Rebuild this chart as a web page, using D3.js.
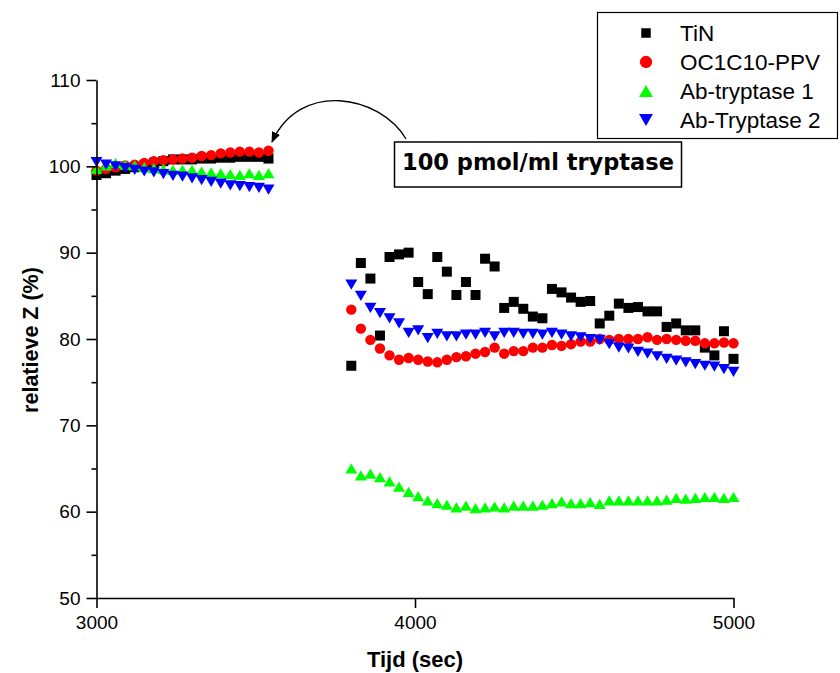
<!DOCTYPE html>
<html>
<head>
<meta charset="utf-8">
<script src="https://cdn.jsdelivr.net/npm/d3@7"></script>
<style>
  html, body { margin: 0; padding: 0; background: #fff; }
  svg { display: block; }
</style>
</head>
<body>
<svg id="chart" width="840" height="673"></svg>
<script>
// Measurement times (s): before and after adding tryptase
const time1 = [3000, 3030, 3060, 3090, 3120, 3150, 3180, 3210, 3240, 3270,
               3300, 3330, 3360, 3390, 3420, 3450, 3480, 3510, 3540];
const time2 = [3800, 3830, 3860, 3890, 3920, 3950, 3980, 4010, 4040, 4070,
               4100, 4130, 4160, 4190, 4220, 4250, 4280, 4310, 4340, 4370,
               4400, 4430, 4460, 4490, 4520, 4550, 4580, 4610, 4640, 4670,
               4700, 4730, 4760, 4790, 4820, 4850, 4880, 4910, 4940, 4970, 5000];

// Relative impedance (%) per electrode
const tin1 = [99.0, 99.2, 99.5, 99.7, 99.9, 100.1, 100.4, 100.6, 100.8, 100.8,
              100.8, 100.9, 100.9, 101.0, 101.0, 101.1, 101.1, 101.1, 100.9];
const tin2 = [76.9, 88.8, 87.0, 80.4, 89.5, 89.8, 90.0, 86.6, 85.2, 89.5,
              87.8, 85.1, 86.6, 85.1, 89.3, 88.4, 83.6, 84.3, 83.5, 82.6,
              82.4, 85.8, 85.4, 84.8, 84.3, 84.4, 81.8, 82.7, 84.1, 83.6,
              83.7, 83.2, 83.2, 81.4, 81.8, 81.0, 81.0, 79.0, 78.1, 80.9, 77.7];

const ppv1 = [99.5, 99.7, 99.9, 100.1, 100.2, 100.4, 100.6, 100.7, 100.8, 100.9,
              101.0, 101.2, 101.3, 101.5, 101.6, 101.7, 101.7, 101.6, 101.8];
const ppv2 = [83.4, 81.2, 79.9, 78.9, 78.1, 77.6, 77.8, 77.6, 77.4, 77.3,
              77.6, 77.9, 78.0, 78.3, 78.5, 79.0, 78.3, 78.6, 78.6, 79.0,
              79.0, 79.3, 79.2, 79.4, 79.7, 79.7, 80.0, 79.9, 80.0, 80.0,
              80.0, 80.2, 79.9, 80.0, 79.9, 79.8, 79.8, 79.5, 79.5, 79.6, 79.5];

const ab1a = [99.7, 100.1, 100.4, 100.2, 100.1, 99.9, 99.8, 99.7, 99.6, 99.6,
              99.6, 99.4, 99.3, 99.2, 99.1, 99.0, 99.2, 99.0, 99.2];
const ab1b = [65.0, 64.2, 64.4, 64.0, 63.5, 62.9, 62.3, 61.8, 61.3, 61.0,
              60.8, 60.5, 60.7, 60.4, 60.5, 60.6, 60.5, 60.7, 60.7, 60.7,
              60.8, 61.0, 61.2, 61.0, 61.0, 61.1, 60.9, 61.3, 61.3, 61.3,
              61.3, 61.3, 61.3, 61.4, 61.6, 61.5, 61.6, 61.7, 61.7, 61.6, 61.7];

const ab2a = [100.5, 100.2, 100.0, 99.8, 99.6, 99.4, 99.3, 99.1, 98.9, 98.8,
              98.6, 98.4, 98.2, 98.0, 97.8, 97.7, 97.6, 97.5, 97.3];
const ab2b = [86.3, 85.0, 83.6, 83.0, 82.4, 81.8, 80.7, 81.0, 80.1, 80.6,
              80.3, 80.3, 80.5, 80.5, 80.7, 80.3, 80.7, 80.7, 80.6, 80.6,
              80.5, 80.7, 80.5, 80.3, 80.2, 80.0, 79.9, 79.4, 79.0, 78.9,
              78.5, 78.3, 78.0, 77.7, 77.5, 77.3, 77.1, 76.9, 76.8, 76.5, 76.2];

const seriesNames = ["TiN", "OC1C10-PPV", "Ab-tryptase 1", "Ab-Tryptase 2"];
const seriesColors = ["#000000", "#ff0000", "#00ff00", "#0000ff"];
const xTicks = [3000, 4000, 5000];
const yTicks = [50, 60, 70, 80, 90, 100, 110];
const yMinorTicks = [55, 65, 75, 85, 95, 105];
const noteText = "100 pmol/ml tryptase";

// Triangle symbols centred on their bounding box
const triUp = { draw(ctx, size) {
  const w = Math.sqrt(size * 2.4), h = w * 0.85;
  ctx.moveTo(0, -h / 2); ctx.lineTo(w / 2, h / 2); ctx.lineTo(-w / 2, h / 2); ctx.closePath();
}};
const triDown = { draw(ctx, size) {
  const w = Math.sqrt(size * 2.4), h = w * 0.85;
  ctx.moveTo(0, h / 2); ctx.lineTo(w / 2, -h / 2); ctx.lineTo(-w / 2, -h / 2); ctx.closePath();
}};
const symbolTypes = [d3.symbolSquare, d3.symbolCircle, triUp, triDown];
const symbolSizes = [100, 85, 60, 60];

const svg = d3.select("#chart");
const x = d3.scaleLinear().domain([3000, 5000]).range([96.5, 733.5]);
const y = d3.scaleLinear().domain([50, 110]).range([598, 80]);

const font = "'Liberation Sans', Arial, sans-serif";

// Series data, grouped per electrode
const series = [
  [tin1, tin2], [ppv1, ppv2], [ab1a, ab1b], [ab2a, ab2b]
].map((segs, i) => ({
  name: seriesNames[i],
  color: seriesColors[i],
  points: [
    ...time1.map((t, j) => ({ t, v: segs[0][j] })),
    ...time2.map((t, j) => ({ t, v: segs[1][j] }))
  ]
}));

series.forEach((s, i) => {
  const sym = d3.symbol().type(symbolTypes[i]).size(symbolSizes[i]);
  svg.append("g").selectAll("path")
    .data(s.points)
    .join("path")
    .attr("transform", d => `translate(${x(d.t)},${y(d.v)})`)
    .attr("d", sym)
    .attr("fill", s.color);
});

// Axes
const axisStyle = g => {
  g.selectAll(".domain").attr("stroke", "#000").attr("stroke-width", 1.6);
  g.selectAll(".tick line").attr("stroke", "#000").attr("stroke-width", 1.6);
  g.selectAll(".tick text").attr("font-family", font).attr("font-size", 19).attr("fill", "#000");
};

svg.append("g")
  .attr("transform", `translate(0,${y(50)})`)
  .call(d3.axisBottom(x).tickValues(xTicks).tickSize(10).tickSizeOuter(0).tickPadding(8).tickFormat(d3.format("d")))
  .call(axisStyle);

svg.append("g")
  .attr("transform", `translate(${x(3000)},0)`)
  .call(d3.axisLeft(y).tickValues(yTicks).tickSize(10).tickSizeOuter(0).tickPadding(6).tickFormat(d3.format("d")))
  .call(axisStyle);

svg.append("g")
  .attr("transform", `translate(${x(3000)},0)`)
  .call(d3.axisLeft(y).tickValues(yMinorTicks).tickSize(5).tickFormat(""))
  .call(g => g.select(".domain").remove())
  .call(axisStyle);

// Axis titles
svg.append("text")
  .attr("x", 415).attr("y", 667)
  .attr("text-anchor", "middle")
  .attr("font-family", font).attr("font-weight", "bold").attr("font-size", 22)
  .text("Tijd (sec)");

svg.append("text")
  .attr("transform", `translate(38,340) rotate(-90)`)
  .attr("text-anchor", "middle")
  .attr("font-family", font).attr("font-weight", "bold").attr("font-size", 21.5)
  .text("relatieve Z (%)");

// Legend
const legend = svg.append("g");
legend.append("rect")
  .attr("x", 597.5).attr("y", 12.5).attr("width", 240).attr("height", 126)
  .attr("fill", "#fff").attr("stroke", "#000").attr("stroke-width", 1.2);
const legendSizes = [90, 120, 80, 80];
seriesNames.forEach((name, i) => {
  const cy = 33 + i * 29;
  legend.append("path")
    .attr("transform", `translate(646,${cy})`)
    .attr("d", d3.symbol().type(symbolTypes[i]).size(legendSizes[i]))
    .attr("fill", seriesColors[i]);
  legend.append("text")
    .attr("x", 680).attr("y", cy + 8)
    .attr("font-family", font).attr("font-size", 22.5).attr("fill", "#000")
    .text(name);
});

// Annotation box and arrow
svg.append("rect")
  .attr("x", 394.5).attr("y", 142).attr("width", 287).attr("height", 45)
  .attr("fill", "#fff").attr("stroke", "#000").attr("stroke-width", 1.5);
svg.append("text")
  .attr("x", 402).attr("y", 170)
  .attr("font-family", "'DejaVu Sans', Verdana, sans-serif")
  .attr("font-weight", "bold").attr("font-size", 22.5).attr("fill", "#000")
  .text(noteText);

svg.append("defs").append("marker")
  .attr("id", "arrowhead")
  .attr("viewBox", "0 0 10 10").attr("refX", 9).attr("refY", 5)
  .attr("markerWidth", 11).attr("markerHeight", 11)
  .attr("markerUnits", "userSpaceOnUse")
  .attr("orient", "auto")
  .append("path").attr("d", "M0,1 L10,5 L0,9 Z").attr("fill", "#000");

svg.append("path")
  .attr("d", "M406,139 C380,95 300,80 272,142")
  .attr("fill", "none").attr("stroke", "#000").attr("stroke-width", 1.3)
  .attr("marker-end", "url(#arrowhead)");
</script>
</body>
</html>
